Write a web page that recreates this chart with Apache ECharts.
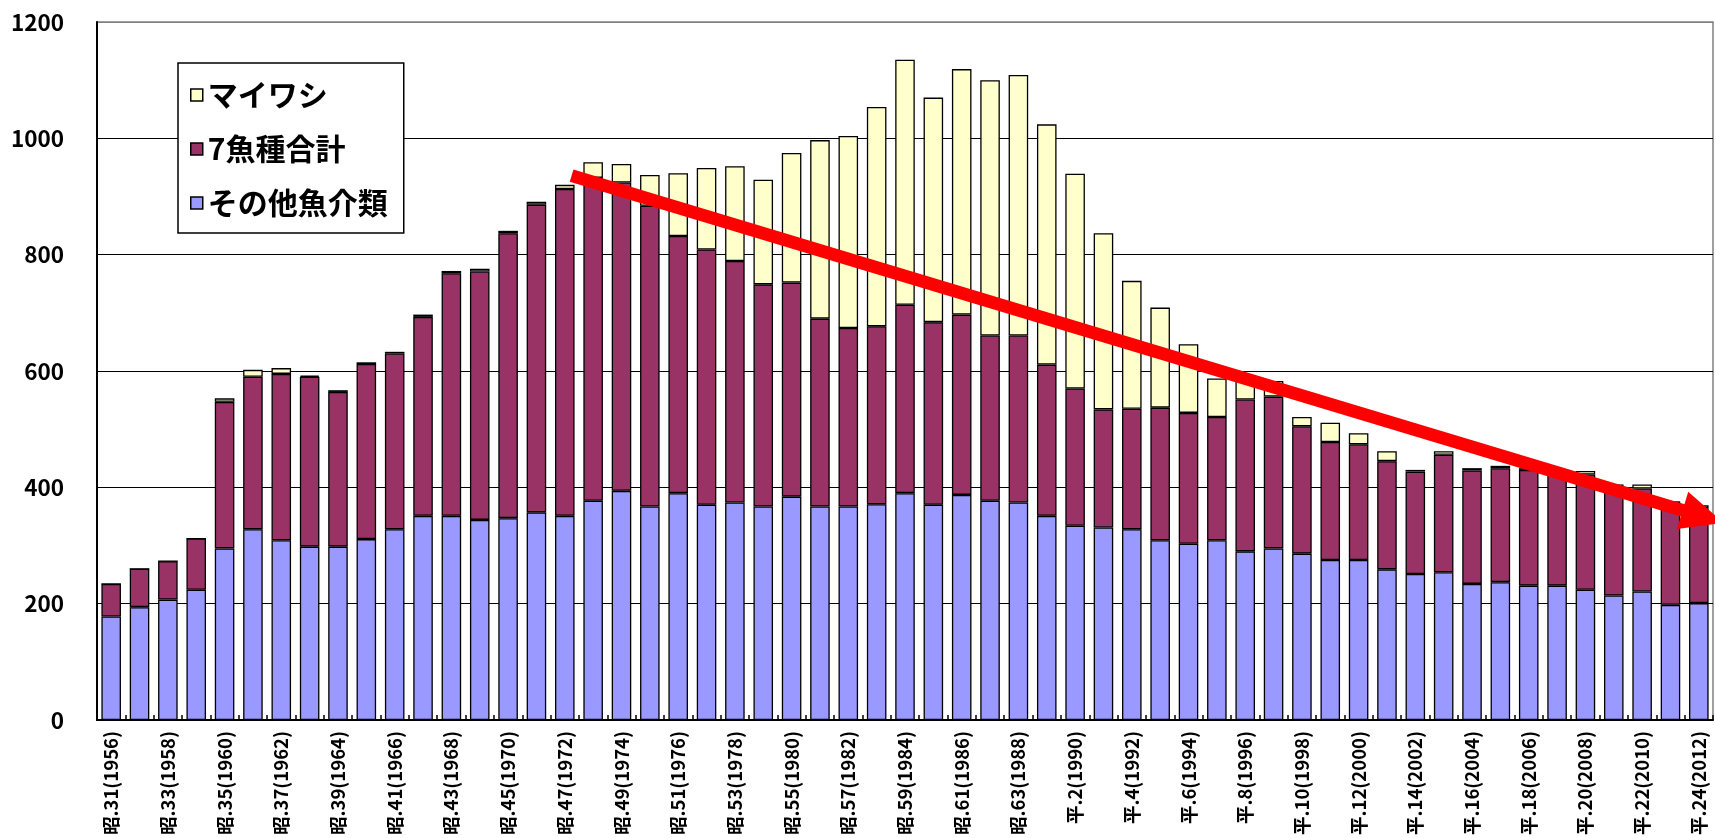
<!DOCTYPE html>
<html lang="ja">
<head>
<meta charset="utf-8">
<title>漁獲量の推移</title>
<script src="https://cdn.jsdelivr.net/npm/echarts@6/dist/echarts.min.js"></script>
<style>
  html, body { margin: 0; padding: 0; background: #ffffff; }
  #chart { width: 1715px; height: 838px; }
</style>
</head>
<body>
<div id="chart"></div>
<script>
// Fiscal years (Showa / Heisei era with Western year)
const categories = [
  '昭.31(1956)', '昭.32(1957)', '昭.33(1958)', '昭.34(1959)', '昭.35(1960)', '昭.36(1961)',
  '昭.37(1962)', '昭.38(1963)', '昭.39(1964)', '昭.40(1965)', '昭.41(1966)', '昭.42(1967)',
  '昭.43(1968)', '昭.44(1969)', '昭.45(1970)', '昭.46(1971)', '昭.47(1972)', '昭.48(1973)',
  '昭.49(1974)', '昭.50(1975)', '昭.51(1976)', '昭.52(1977)', '昭.53(1978)', '昭.54(1979)',
  '昭.55(1980)', '昭.56(1981)', '昭.57(1982)', '昭.58(1983)', '昭.59(1984)', '昭.60(1985)',
  '昭.61(1986)', '昭.62(1987)', '昭.63(1988)', '平.元(1989)', '平.2(1990)', '平.3(1991)',
  '平.4(1992)', '平.5(1993)', '平.6(1994)', '平.7(1995)', '平.8(1996)', '平.9(1997)',
  '平.10(1998)', '平.11(1999)', '平.12(2000)', '平.13(2001)', '平.14(2002)', '平.15(2003)',
  '平.16(2004)', '平.17(2005)', '平.18(2006)', '平.19(2007)', '平.20(2008)', '平.21(2009)',
  '平.22(2010)', '平.23(2011)', '平.24(2012)'
];

// その他魚介類 (bottom segment)
const otherSeafood = [
  178, 194, 207, 224, 295, 328, 309, 298, 298, 311, 328, 351, 351, 344, 347, 357, 351, 377,
  394, 367, 390, 370, 374, 367, 384, 367, 367, 371, 390, 370, 387, 377, 374, 351, 334, 331,
  328, 309, 303, 309, 290, 295, 286, 275, 275, 259, 251, 254, 234, 237, 231, 231, 224, 214,
  221, 198, 201
];

// 7魚種合計 (middle segment)
const sevenSpecies = [
  56, 66, 66, 88, 252, 262, 286, 292, 266, 301, 302, 342, 417, 427, 490, 529, 562, 555,
  530, 517, 442, 439, 415, 382, 368, 323, 307, 306, 324, 314, 310, 284, 287, 260, 236, 203,
  207, 228, 225, 212, 261, 261, 219, 203, 199, 186, 176, 202, 195, 196, 199, 197, 198, 188,
  177, 175, 163
];

// マイワシ (top segment)
const sardine = [
  0, 0, 0, 0, 6, 12, 10, 2, 3, 3, 3, 4, 4, 5, 4, 5, 7, 27,
  32, 53, 108, 140, 163, 180, 223, 307, 330, 377, 421, 386, 422, 439, 448, 413, 369, 303,
  220, 172, 118, 66, 41, 27, 16, 33, 19, 17, 3, 6, 4, 4, 3, 3, 6, 3,
  7, 3, 5
];

const yTicks = { min: 0, max: 1200, step: 200 };

// Trend arrow, given as [category position, value] for its tail and its tip
const trendTail = [16.24, 936];
const trendTip = [56.88, 339];

const FONT = '"Noto Sans CJK JP", "Noto Sans", sans-serif';
const barBorder = { borderColor: '#000000', borderWidth: 1.3 };

const chart = echarts.init(document.getElementById('chart'), null, { renderer: 'canvas' });

const option = {
  backgroundColor: '#ffffff',
  animation: false,
  grid: {
    left: 97, right: 2, top: 22, bottom: 117,
    show: true,
    borderColor: '#808080',
    borderWidth: 1.5,
    backgroundColor: 'transparent'
  },
  legend: {
    orient: 'vertical',
    left: 178,
    top: 63,
    data: ['マイワシ', '7魚種合計', 'その他魚介類'],
    icon: 'rect',
    itemWidth: 12,
    itemHeight: 12,
    itemGap: 24,
    padding: [17, 16, 15, 12],
    backgroundColor: '#ffffff',
    borderColor: '#000000',
    borderWidth: 1.5,
    borderRadius: 0,
    itemStyle: { borderColor: '#000000', borderWidth: 1.5 },
    textStyle: { fontFamily: FONT, fontWeight: 'bold', fontSize: 30, color: '#000000' }
  },
  xAxis: {
    type: 'category',
    data: categories,
    boundaryGap: true,
    axisLine: { show: true, lineStyle: { color: '#000000', width: 2 } },
    axisTick: { show: true, inside: true, length: 5, interval: 0, lineStyle: { color: '#000000', width: 1.5 } },
    axisLabel: {
      interval: 1,
      rotate: 90,
      margin: 11,
      fontFamily: FONT,
      fontWeight: 'bold',
      fontSize: 18.5,
      color: '#000000'
    },
    splitLine: { show: false }
  },
  yAxis: {
    type: 'value',
    min: yTicks.min,
    max: yTicks.max,
    interval: yTicks.step,
    axisLine: { show: true, lineStyle: { color: '#000000', width: 2 } },
    axisTick: { show: false },
    axisLabel: {
      margin: 33,
      fontFamily: FONT,
      fontWeight: 'bold',
      fontSize: 22.5,
      color: '#000000',
      formatter: (v) => String(v)
    },
    splitLine: {
      show: true,
      lineStyle: {
        color: ['#000000', '#000000', '#000000', '#000000', '#000000', '#000000', '#808080'],
        width: 1.2
      }
    }
  },
  series: [
    {
      name: 'その他魚介類',
      type: 'bar',
      stack: 'catch',
      data: otherSeafood,
      barCategoryGap: '31%',
      itemStyle: Object.assign({ color: '#9999ff' }, barBorder)
    },
    {
      name: '7魚種合計',
      type: 'bar',
      stack: 'catch',
      data: sevenSpecies,
      itemStyle: Object.assign({ color: '#993366' }, barBorder)
    },
    {
      name: 'マイワシ',
      type: 'bar',
      stack: 'catch',
      data: sardine,
      itemStyle: Object.assign({ color: '#ffffcc' }, barBorder)
    }
  ]
};

chart.setOption(option);

// Map a [category position, value] pair to pixels through the chart's own axes
function toPixel(point) {
  const first = chart.convertToPixel({ xAxisIndex: 0 }, categories[0]);
  const last = chart.convertToPixel({ xAxisIndex: 0 }, categories[categories.length - 1]);
  const x = first + (last - first) * point[0] / (categories.length - 1);
  const y = chart.convertToPixel({ yAxisIndex: 0 }, point[1]);
  return [x, y];
}

function drawTrendArrow() {
  const tail = toPixel(trendTail);
  const tip = toPixel(trendTip);
  const dx = tip[0] - tail[0];
  const dy = tip[1] - tail[1];
  const len = Math.hypot(dx, dy);
  const ux = dx / len, uy = dy / len;
  const headLen = 43, headHalf = 19.5, shaft = 12.8;
  const base = [tip[0] - ux * headLen, tip[1] - uy * headLen];
  const px = -uy, py = ux;
  chart.setOption({
    graphic: [
      {
        type: 'line',
        z: 100,
        silent: true,
        shape: { x1: tail[0], y1: tail[1], x2: base[0] + ux * 2, y2: base[1] + uy * 2 },
        style: { stroke: '#ff0000', lineWidth: shaft, lineCap: 'butt' }
      },
      {
        type: 'polygon',
        z: 100,
        silent: true,
        shape: {
          points: [
            [base[0] + px * headHalf, base[1] + py * headHalf],
            [tip[0], tip[1]],
            [base[0] - px * headHalf, base[1] - py * headHalf]
          ]
        },
        style: { fill: '#ff0000' }
      }
    ]
  });
}

drawTrendArrow();
</script>
</body>
</html>
